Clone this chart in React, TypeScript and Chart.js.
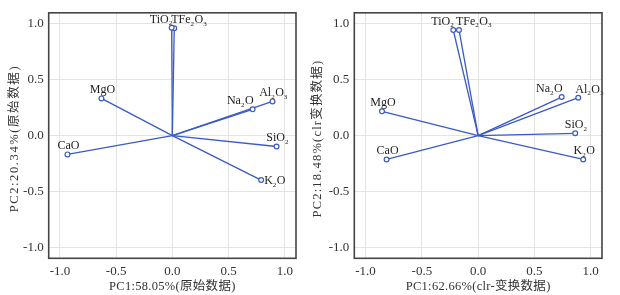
import React, { useEffect, useRef } from "react";
import { Chart, registerables } from "chart.js";

Chart.register(...registerables);

// ---- data ----
const oxideLabels = ["TiO₂", "TFe₂O₃", "MgO", "Na₂O", "Al₂O₃", "SiO₂", "CaO", "K₂O"];

const rawPC1 = [-0.006, 0.017, -0.631, 0.714, 0.891, 0.927, -0.933, 0.79];
const rawPC2 = [0.966, 0.961, 0.333, 0.235, 0.306, -0.098, -0.169, -0.399];

const clrPC1 = [-0.221, -0.17, -0.854, 0.742, 0.889, 0.862, -0.813, 0.933];
const clrPC2 = [0.946, 0.946, 0.217, 0.345, 0.339, 0.02, -0.214, -0.214];

const tickValues = [-1.0, -0.5, 0.0, 0.5, 1.0];

const rawXTitle = "PC1:58.05%(原始数据)";
const rawYTitle = "PC2:20.34%(原始数据)";
const clrXTitle = "PC1:62.66%(clr-变换数据)";
const clrYTitle = "PC2:18.48%(clr变换数据)";

// label placement styles (not data)
const rawAnchors = ["aboveLeft", "aboveRight", "above", "aboveLeft", "above", "above", "above", "right"];
const clrAnchors = ["aboveLeft", "aboveRight", "above", "aboveLeft", "aboveRight", "above", "above", "above"];

const BLUE = "#3a5bc6";
const SERIF = '"Liberation Serif", "Times New Roman", "Noto Sans CJK SC", serif';
const SUBS = "₀₁₂₃₄₅₆₇₈₉";

function drawRich(ctx: CanvasRenderingContext2D, text: string, x: number, y: number, align: string, size: number) {
  const parts: { t: string; sub: boolean }[] = [];
  for (const ch of text) {
    const idx = SUBS.indexOf(ch);
    const sub = idx >= 0;
    const t = sub ? String(idx) : ch;
    const last = parts[parts.length - 1];
    if (last && last.sub === sub) last.t += t;
    else parts.push({ t, sub });
  }
  const mainFont = `${size}px ${SERIF}`;
  const subFont = `${Math.round(size * 0.6)}px ${SERIF}`;
  let total = 0;
  const widths = parts.map((p) => {
    ctx.font = p.sub ? subFont : mainFont;
    const w = ctx.measureText(p.t).width + (p.sub ? 0.5 : 0);
    total += w;
    return w;
  });
  let cx = x;
  if (align === "center") cx = x - total / 2;
  else if (align === "right") cx = x - total;
  ctx.textAlign = "left";
  ctx.textBaseline = "alphabetic";
  parts.forEach((p, i) => {
    ctx.font = p.sub ? subFont : mainFont;
    ctx.fillText(p.t, cx, p.sub ? y + 2.5 : y);
    cx += widths[i];
  });
}

const labelPlugin = {
  id: "oxLabels",
  afterDatasetsDraw(chart: any) {
    const ctx: CanvasRenderingContext2D = chart.ctx;
    const anchors: string[] = chart.options.plugins.oxLabels.anchors;
    ctx.save();
    ctx.fillStyle = "#222";
    chart.data.datasets.forEach((ds: any, i: number) => {
      const meta = chart.getDatasetMeta(i);
      const pt = meta.data[1];
      if (!pt) return;
      const a = anchors[i];
      const px = pt.x, py = pt.y;
      if (a === "above") drawRich(ctx, ds.label, px + 1, py - 5, "center", 12);
      else if (a === "aboveLeft") drawRich(ctx, ds.label, px + 1, py - 5, "right", 12);
      else if (a === "aboveRight") drawRich(ctx, ds.label, px - 3, py - 5, "left", 12);
      else if (a === "right") drawRich(ctx, ds.label, px + 3, py + 4, "left", 12);
    });
    ctx.restore();
  },
};

const framePlugin = {
  id: "frameTitles",
  afterDraw(chart: any) {
    const ctx: CanvasRenderingContext2D = chart.ctx;
    const { left, right, top, bottom } = chart.chartArea;
    const o = chart.options.plugins.frameTitles;
    ctx.save();
    ctx.strokeStyle = "#444";
    ctx.lineWidth = 1.6;
    ctx.strokeRect(left, top, right - left, bottom - top);
    ctx.fillStyle = "#333";
    ctx.font = `12.5px ${SERIF}`;
    ctx.textAlign = "center";
    ctx.textBaseline = "middle";
    (ctx as any).letterSpacing = "0.3px";
    ctx.fillText(o.xTitle, (left + right) / 2, 286.5);
    (ctx as any).letterSpacing = o.ySpacing;
    ctx.translate(o.yTitleX, (top + bottom) / 2 + 3);
    ctx.rotate(-Math.PI / 2);
    ctx.fillText(o.yTitle, 0, 0);
    ctx.restore();
  },
};

function makeConfig(pc1: number[], pc2: number[], anchors: string[], xTitle: string, yTitle: string, yWidth: number, rightPad: number, yTitleX: number, ySpacing: string): any {
  const datasets = oxideLabels.map((lab, i) => ({
    label: lab,
    data: [
      { x: 0, y: 0 },
      { x: pc1[i], y: pc2[i] },
    ],
    showLine: true,
    borderColor: BLUE,
    borderWidth: 1.3,
    pointRadius: [0, 2.4],
    pointBorderWidth: 1.2,
    pointBorderColor: BLUE,
    pointBackgroundColor: "#ffffff",
  }));
  const tickFilter = (scale: any) => {
    scale.ticks = tickValues.map((v) => ({ value: v }));
  };
  const tickCommon = {
    color: "#333",
    font: { family: SERIF, size: 13 },
    callback: (v: any) => Number(v).toFixed(1),
  };
  return {
    type: "scatter",
    data: { datasets },
    options: {
      responsive: false,
      animation: false,
      layout: { padding: { top: 11.7, right: rightPad, bottom: 0, left: 0 } },
      plugins: {
        legend: { display: false },
        tooltip: { enabled: false },
        oxLabels: { anchors },
        frameTitles: { xTitle, yTitle, yTitleX, ySpacing },
      },
      scales: {
        x: {
          type: "linear",
          min: -1.1,
          max: 1.1,
          afterBuildTicks: tickFilter,
          afterFit: (s: any) => {
            s.height = 36.7;
          },
          grid: { color: "#e4e4e4", lineWidth: 1, drawTicks: false },
          border: { display: false },
          ticks: { ...tickCommon, padding: 5, maxRotation: 0 },
        },
        y: {
          type: "linear",
          min: -1.1,
          max: 1.1,
          afterBuildTicks: tickFilter,
          afterFit: (s: any) => {
            s.width = yWidth;
          },
          grid: { color: "#e4e4e4", lineWidth: 1, drawTicks: false },
          border: { display: false },
          ticks: { ...tickCommon, padding: 5 },
        },
      },
    },
    plugins: [labelPlugin, framePlugin],
  };
}

function Panel(props: { cfg: () => any }) {
  const ref = useRef<HTMLCanvasElement | null>(null);
  useEffect(() => {
    if (!ref.current) return;
    const chart = new Chart(ref.current, props.cfg());
    return () => chart.destroy();
  }, []);
  return <canvas ref={ref} width={310} height={295} style={{ display: "block", width: 310, height: 295 }} />;
}

export default function App() {
  return (
    <div style={{ position: "fixed", left: 0, top: 0, width: 620, height: 295, display: "flex", background: "#fff" }}>
      <Panel cfg={() => makeConfig(rawPC1, rawPC2, rawAnchors, rawXTitle, rawYTitle, 48.7, 14, 14.5, "1.6px")} />
      <Panel cfg={() => makeConfig(clrPC1, clrPC2, clrAnchors, clrXTitle, clrYTitle, 44.3, 18, 7.5, "1.2px")} />
    </div>
  );
}
